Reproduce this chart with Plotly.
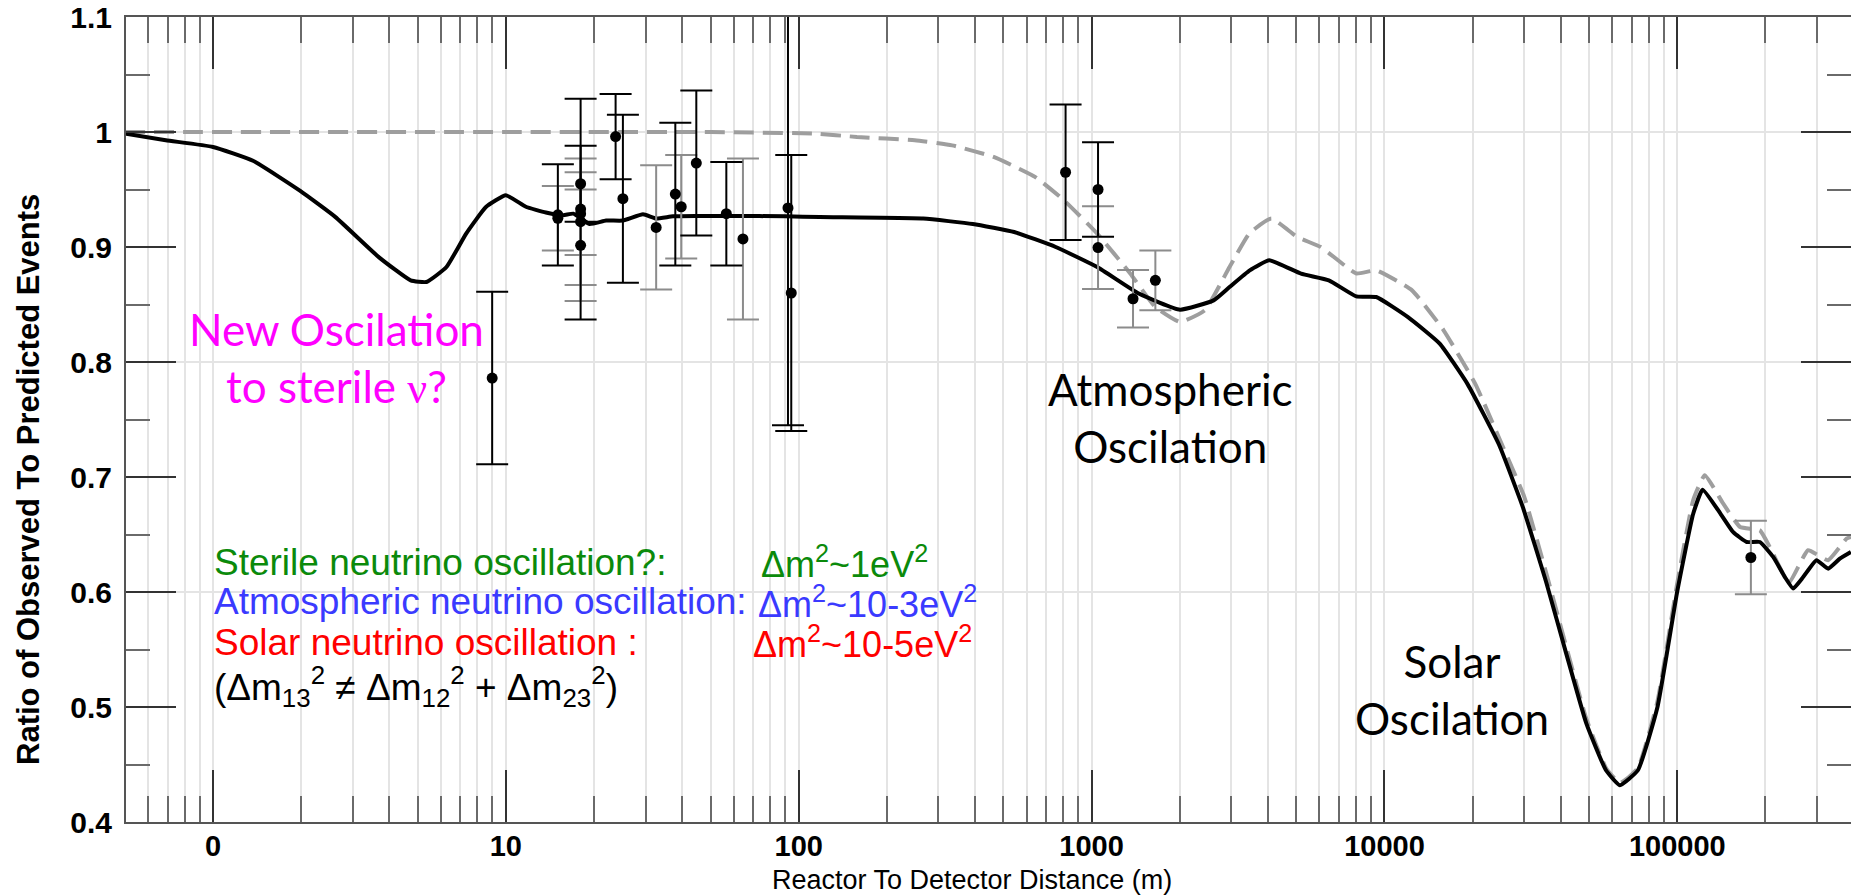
import math
import plotly.graph_objects as go

# ---------------- data ----------------
# solid black curve: with sterile-neutrino oscillation
solid_L = [0.5, 0.69, 1.0, 1.37, 1.98, 2.62, 3.69, 4.73, 5.36, 6.27, 7.32, 8.55, 10.0, 11.7,
           13.7, 15.7, 17.0, 19.3, 22.0, 25.1, 29.4, 32.6, 37.2, 45, 60, 90, 118, 266, 393,
           544, 754, 1045, 1449, 2005, 2609, 2958, 3468, 4045, 5190, 6457, 8020, 9375, 12030,
           15440, 19200, 24620, 29660, 35810, 41800, 48860, 57070, 63640, 73340, 85550,
           100000, 113300, 122000, 140500, 155200, 172500, 191300, 212500, 232900, 248600,
           269000, 298700, 327200, 358800, 391400]
solid_R = [0.9986, 0.9928, 0.987, 0.975, 0.949, 0.926, 0.891, 0.871, 0.8696, 0.8826, 0.9117,
           0.9348, 0.945, 0.935, 0.930, 0.9276, 0.929, 0.920, 0.923, 0.923, 0.9284, 0.9247,
           0.9267, 0.927, 0.927, 0.9267, 0.926, 0.9247, 0.920, 0.913, 0.900, 0.8826, 0.8595,
           0.8455, 0.8536, 0.8652, 0.8797, 0.8884, 0.8768, 0.871, 0.857, 0.8565, 0.839, 0.816,
           0.781, 0.728, 0.674, 0.607, 0.546, 0.486, 0.445, 0.432, 0.445, 0.500, 0.601, 0.668,
           0.689, 0.668, 0.652, 0.6435, 0.6435, 0.6305, 0.613, 0.603, 0.613, 0.6276, 0.6203,
           0.629, 0.6348]

# dashed grey curve: standard three-flavour oscillation
dash_L = [0.5, 10, 50, 114, 158, 249, 334, 463, 641, 805, 1045, 1355, 1648, 2005, 2438, 2958,
          3460, 4110, 5035, 6060, 8020, 9375, 12420, 15920, 20420, 25400, 30000, 35810, 41800,
          48860, 57070, 63640, 73340, 85550, 100000, 113300, 124100, 143300, 163800, 191300,
          206800, 229600, 242000, 279500, 327200, 378200, 391400]
dash_R = [1.0, 1.0, 1.0, 0.9986, 0.9957, 0.9928, 0.9884, 0.9783, 0.961, 0.9406, 0.9117, 0.877,
          0.848, 0.8348, 0.845, 0.8826, 0.912, 0.9247, 0.9087, 0.900, 0.877, 0.8797, 0.8623,
          0.8276, 0.781, 0.726, 0.683, 0.615, 0.552, 0.490, 0.447, 0.434, 0.447, 0.505, 0.608,
          0.680, 0.7015, 0.677, 0.6565, 0.6537, 0.6391, 0.616, 0.6087, 0.6363, 0.6276, 0.6464,
          0.648]

# measurements with black error bars
blk_L = [8.98, 15.05, 18.0, 18.0, 23.7, 25.1, 37.9, 44.7, 56.6, 91.9, 94.3, 815, 1052]
blk_R = [0.786, 0.928, 0.933, 0.955, 0.996, 0.942, 0.946, 0.973, 0.929, 0.934, 0.860, 0.965, 0.950]
blk_E = [0.075, 0.044, 0.096, 0.033, 0.037, 0.073, 0.062, 0.063, 0.045, 0.189, 0.120, 0.059, 0.041]

# measurements with grey error bars
gry_L = [15.05, 18.0, 18.0, 18.0, 32.6, 39.7, 64.5, 1052, 1385, 1651, 178300]
gry_R = [0.925, 0.929, 0.922, 0.9015, 0.917, 0.935, 0.907, 0.8995, 0.855, 0.871, 0.630]
gry_E = [0.028, 0.036, 0.055, 0.0485, 0.054, 0.045, 0.070, 0.036, 0.025, 0.026, 0.032]

x_tick_vals = [1, 10, 100, 1000, 10000, 100000]
x_tick_text = ["0", "10", "100", "1000", "10000", "100000"]
x_minor_vals = [k * 10 ** n for n in range(-1, 6) for k in range(2, 10)]

# ---------------- layout geometry ----------------
W, H = 1851, 896
ML, MR, MT, MB = 126, 0, 17, 74
PW, PH = W - ML - MR, H - MT - MB


def px(x):
    return (x - ML) / PW


def py(y):
    return (H - MB - y) / PH


GRID = "#e4e4e4"
TICK = "#333333"
MINOR = "#6a6a6a"
AX = "#555555"

fig = go.Figure()

fig.add_trace(go.Scatter(
    x=dash_L, y=dash_R, mode="lines", hoverinfo="skip",
    line=dict(color="#9e9e9e", width=4, dash="20px,9px", shape="spline", smoothing=0.4)))
fig.add_trace(go.Scatter(
    x=solid_L, y=solid_R, mode="lines", hoverinfo="skip",
    line=dict(color="black", width=4, shape="spline", smoothing=0.4)))
fig.add_trace(go.Scatter(
    x=gry_L, y=gry_R, mode="markers",
    marker=dict(color="black", size=11, symbol="circle"),
    error_y=dict(type="data", array=gry_E, visible=True, color="#8c8c8c",
                 thickness=2, width=16)))
fig.add_trace(go.Scatter(
    x=blk_L, y=blk_R, mode="markers",
    marker=dict(color="black", size=11, symbol="circle"),
    error_y=dict(type="data", array=blk_E, visible=True, color="black",
                 thickness=2, width=16)))
# empty trace to host the overlay axis that carries the 0.2-step horizontal grid
fig.add_trace(go.Scatter(x=[], y=[], xaxis="x", yaxis="y2", showlegend=False))

fig.update_layout(
    width=W, height=H,
    margin=dict(l=ML, r=MR, t=MT, b=MB, autoexpand=False),
    plot_bgcolor="white", paper_bgcolor="white",
    showlegend=False,
    font=dict(family="Liberation Sans, Arial, sans-serif", color="black"),
    xaxis=dict(
        type="log", range=[-0.297, 5.593],
        tickmode="array", tickvals=x_tick_vals, ticktext=x_tick_text,
        ticks="inside", ticklen=52, tickwidth=2, tickcolor=TICK,
        mirror="ticks", showline=True, linecolor=AX, linewidth=2,
        showgrid=True, gridcolor=GRID, gridwidth=2, zeroline=False,
        tickfont=dict(size=29, weight="bold", color="black"),
        ticklabelstandoff=-3,
        minor=dict(tickmode="array", tickvals=x_minor_vals, ticks="inside", ticklen=26,
                   tickwidth=2, tickcolor=MINOR, showgrid=True, gridcolor=GRID, gridwidth=2),
        automargin=False,
    ),
    yaxis=dict(
        range=[0.4, 1.1], tickmode="linear", tick0=0.4, dtick=0.1,
        ticks="inside", ticklen=50, tickwidth=2, tickcolor=TICK,
        mirror="ticks", showline=True, linecolor=AX, linewidth=2,
        showgrid=False, zeroline=False,
        tickfont=dict(size=30, weight="bold", color="black"),
        ticklabelstandoff=6,
        minor=dict(tickmode="linear", tick0=0.4, dtick=0.05, ticks="inside", ticklen=24,
                   tickwidth=2, tickcolor=MINOR, showgrid=False),
        automargin=False,
    ),
    yaxis2=dict(
        overlaying="y", range=[0.4, 1.1], tickmode="linear", tick0=0.4, dtick=0.2,
        showgrid=True, gridcolor=GRID, gridwidth=2, showticklabels=False,
        ticks="", showline=False, zeroline=False, automargin=False,
    ),
)

# white box behind the explanation text
fig.add_shape(type="rect", xref="paper", yref="paper",
              x0=px(212), x1=px(1006), y0=py(708), y1=py(541),
              fillcolor="white", line=dict(width=0), layer="between")

ann = []
LATO = "Lato, Open Sans, sans-serif"
ann.append(dict(text="New Oscilation<br>to sterile <span style=\"font-family:Liberation Serif\">ν</span>?",
                x=px(336), y=py(358),
                font=dict(family=LATO, size=44, color="#ff00ff")))
ann.append(dict(text="Atmospheric<br>Oscilation", x=px(1170), y=py(418),
                font=dict(family=LATO, size=44, color="black")))
ann.append(dict(text="Solar<br>Oscilation", x=px(1452), y=py(689),
                font=dict(family=LATO, size=44, color="black")))

LEG = "Liberation Sans, Arial, sans-serif"
rows = [
    ("Sterile neutrino oscillation?:", "Δm<sup>2</sup>~1eV<sup>2</sup>", "#0b8a0b", 562, 759),
    ("Atmospheric neutrino oscillation:", "Δm<sup>2</sup>~10-3eV<sup>2</sup>", "#3a3aff", 602, 756),
    ("Solar neutrino oscillation :", "Δm<sup>2</sup>~10-5eV<sup>2</sup>", "#ff0000", 642, 751),
]
for left, right, col, yy, xr in rows:
    ann.append(dict(text=left, x=px(212), y=py(yy), xanchor="left",
                    font=dict(family=LEG, size=37, color=col)))
    ann.append(dict(text=right, x=px(xr), y=py(yy), xanchor="left",
                    font=dict(family=LEG, size=36, color=col)))
ann.append(dict(text="(Δm<sub>13</sub><sup>2</sup> ≠ Δm<sub>12</sub><sup>2</sup> + Δm<sub>23</sub><sup>2</sup>)",
                x=px(212), y=py(686), xanchor="left",
                font=dict(family=LEG, size=37, color="black")))

# axis titles
ann.append(dict(text="Reactor To Detector Distance (m)", x=px(972), y=py(880),
                font=dict(family=LEG, size=27, color="black")))
ann.append(dict(text="Ratio of Observed To Predicted Events", x=px(28), y=py(480),
                textangle=-90, font=dict(family=LEG, size=31, color="black", weight="bold")))

for a in ann:
    a.setdefault("xanchor", "center")
    a.setdefault("yanchor", "middle")
    a.update(xref="paper", yref="paper", showarrow=False)
    fig.add_annotation(**a)

fig.write_html("out.html")
